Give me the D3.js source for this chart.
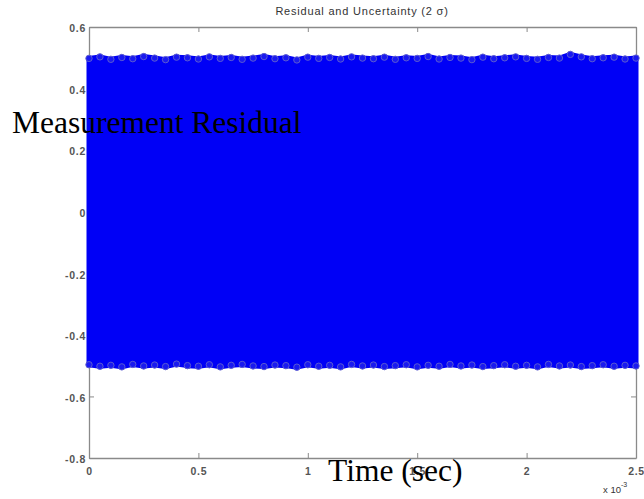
<!DOCTYPE html>
<html>
<head>
<meta charset="utf-8">
<script src="https://cdn.jsdelivr.net/npm/d3@7"></script>
<style>
    html, body { margin: 0; padding: 0; background: #fff; }
    svg { display: block; }
    .tick text { font-family: Arial, "Liberation Sans", sans-serif; font-size: 10.5px; font-weight: bold; fill: #555; letter-spacing: 0.7px; }
</style>
</head>
<body>
<svg id="chart" width="644" height="499"></svg>
<script>
(function() {
    'use strict';

    // Data (time in units of 10^-3 sec, residual envelope)
    const timeMs = [0, 0.05, 0.1, 0.15, 0.2, 0.25, 0.3, 0.35, 0.4, 0.45, 0.5, 0.55, 0.6, 0.65, 0.7, 0.75, 0.8, 0.85, 0.9, 0.95,
        1.0, 1.05, 1.1, 1.15, 1.2, 1.25, 1.3, 1.35, 1.4, 1.45, 1.5, 1.55, 1.6, 1.65, 1.7, 1.75, 1.8, 1.85, 1.9, 1.95,
        2.0, 2.05, 2.1, 2.15, 2.2, 2.25, 2.3, 2.35, 2.4, 2.45, 2.5];
    const upperResidual = [0.498, 0.503, 0.495, 0.501, 0.497, 0.504, 0.499, 0.494, 0.502, 0.500, 0.496, 0.503, 0.498, 0.501, 0.495, 0.499, 0.504, 0.497, 0.500, 0.493,
        0.502, 0.498, 0.501, 0.496, 0.503, 0.499, 0.497, 0.502, 0.495, 0.500, 0.498, 0.504, 0.496, 0.501, 0.499, 0.494, 0.502, 0.497, 0.500, 0.503,
        0.498, 0.495, 0.501, 0.499, 0.511, 0.503, 0.497, 0.500, 0.502, 0.496, 0.499];
    const lowerResidual = [-0.497, -0.502, -0.499, -0.504, -0.496, -0.501, -0.498, -0.503, -0.495, -0.500, -0.502, -0.497, -0.504, -0.499, -0.496, -0.501, -0.503, -0.498, -0.500, -0.505,
        -0.497, -0.502, -0.499, -0.504, -0.496, -0.501, -0.498, -0.503, -0.500, -0.497, -0.504, -0.499, -0.502, -0.496, -0.501, -0.498, -0.503, -0.500, -0.497, -0.502,
        -0.499, -0.504, -0.496, -0.501, -0.498, -0.503, -0.500, -0.497, -0.502, -0.499, -0.501];
    const xTicks = [0, 0.5, 1, 1.5, 2, 2.5];
    const yTicks = [-0.8, -0.6, -0.4, -0.2, 0, 0.2, 0.4, 0.6];
    const yTickLabels = ['-0.8', '-0.6', '-0.4', '-0.2', '0', '0.2', '0.4', '0.6'];

    const margin = { left: 89, right: 8, top: 27, bottom: 41 };
    const width = 644, height = 499;

    const svg = d3.select('#chart');

    const x = d3.scaleLinear().domain([0, 2.5]).range([margin.left, width - margin.right]);
    const y = d3.scaleLinear().domain([-0.8, 0.6]).range([height - margin.bottom, margin.top]);

    // Title
    svg.append('text')
        .attr('x', 362)
        .attr('y', 15)
        .attr('text-anchor', 'middle')
        .attr('font-family', 'Arial, "Liberation Sans", sans-serif')
        .attr('font-size', 11)
        .attr('letter-spacing', 0.8)
        .attr('fill', '#333')
        .text('Residual and Uncertainty (2 σ)');

    // Axes box with inward ticks
    const axisStyle = g => {
        g.select('.domain').attr('stroke', '#8a8a8a').attr('stroke-width', 1.3);
        g.selectAll('.tick line').attr('stroke', '#8a8a8a');
    };

    svg.append('g')
        .attr('transform', `translate(0,${y(-0.8)})`)
        .call(d3.axisBottom(x).tickValues(xTicks).tickFormat(d => String(d)).tickSize(-5).tickSizeOuter(0).tickPadding(10))
        .call(axisStyle)
        .call(g => g.selectAll('.tick text').attr('font-size', null).attr('font-family', null));

    svg.append('g')
        .attr('transform', `translate(0,${y(0.6)})`)
        .call(d3.axisTop(x).tickValues(xTicks).tickFormat('').tickSize(-5).tickSizeOuter(0))
        .call(axisStyle);

    svg.append('g')
        .attr('transform', `translate(${x(0)},0)`)
        .call(d3.axisLeft(y).tickValues(yTicks).tickFormat((d, i) => yTickLabels[i]).tickSize(-5).tickSizeOuter(0).tickPadding(3))
        .call(axisStyle)
        .call(g => g.selectAll('.tick text')
            .attr('font-size', null).attr('font-family', null).attr('dy', '0.45em'));

    svg.append('g')
        .attr('transform', `translate(${x(2.5)},0)`)
        .call(d3.axisRight(y).tickValues(yTicks).tickFormat('').tickSize(-5).tickSizeOuter(0))
        .call(axisStyle);

    // Exponent label
    const expo = svg.append('text')
        .attr('x', 603)
        .attr('y', 493)
        .attr('font-family', 'Arial, "Liberation Sans", sans-serif')
        .attr('font-size', 9.5)
        .attr('fill', '#333');
    expo.append('tspan').text('x 10');
    expo.append('tspan').attr('dy', -6).attr('font-size', 7).text('-3');

    // Residual cloud
    const points = timeMs.map((t, i) => ({ t, hi: upperResidual[i], lo: lowerResidual[i] }));

    const area = d3.area()
        .x(d => x(d.t))
        .y0(d => y(d.lo))
        .y1(d => y(d.hi));

    const cloud = svg.append('g').attr('class', 'cloud');

    cloud.append('path')
        .datum(points)
        .attr('d', area)
        .attr('fill', '#0000f6')
        .attr('stroke', '#0000f6')
        .attr('stroke-width', 5)
        .attr('stroke-linejoin', 'round');

    // Edge markers (open circles, like the scatter markers on the rim)
    const edge = points.flatMap(d => [{ t: d.t, v: d.hi }, { t: d.t, v: d.lo }]);
    cloud.selectAll('circle')
        .data(edge)
        .join('circle')
        .attr('cx', d => x(d.t))
        .attr('cy', d => y(d.v))
        .attr('r', 3.2)
        .attr('fill', '#1a1af0')
        .attr('stroke', '#5a5ad0')
        .attr('stroke-width', 1);

    // Overlaid axis labels
    svg.append('text')
        .attr('x', 12)
        .attr('y', 133)
        .attr('font-family', '"Liberation Serif", "Times New Roman", serif')
        .attr('font-size', 31.5)
        .attr('fill', '#000')
        .text('Measurement Residual');

    svg.append('text')
        .attr('x', 328)
        .attr('y', 481)
        .attr('font-family', '"Liberation Serif", "Times New Roman", serif')
        .attr('font-size', 31.5)
        .attr('fill', '#000')
        .text('Time (sec)');
})();
</script>
</body>
</html>
